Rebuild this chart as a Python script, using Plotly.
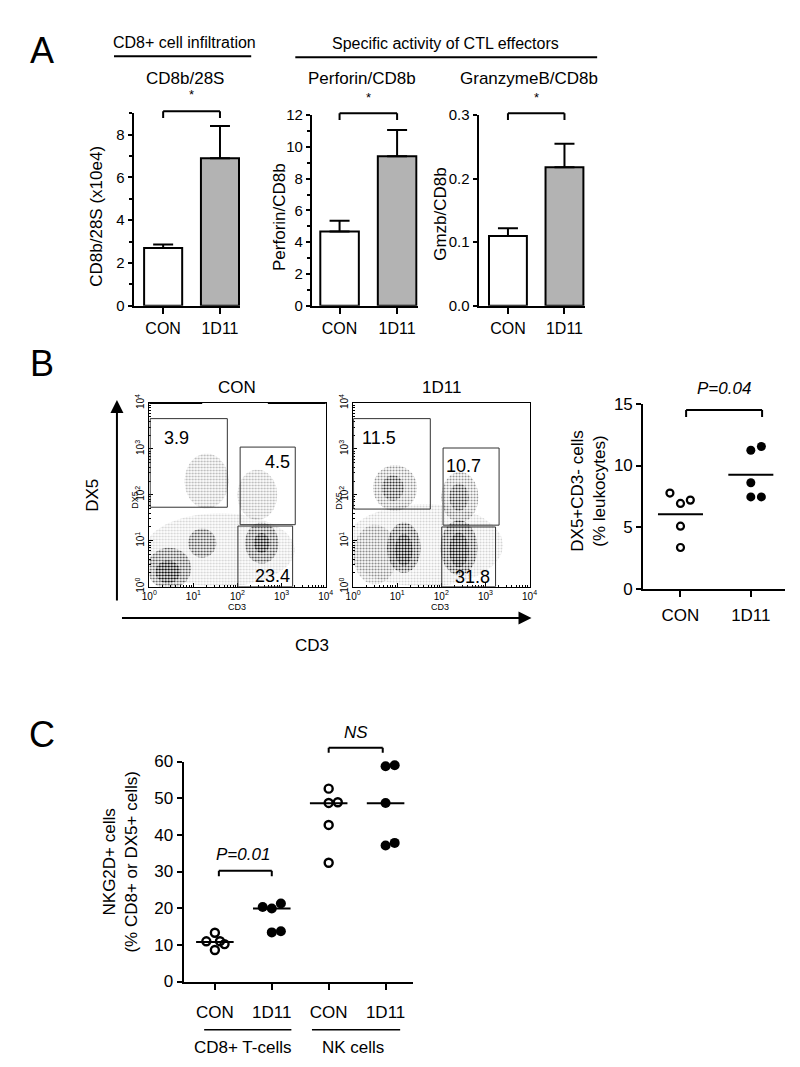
import numpy as np
import plotly.graph_objects as go

W, H = 800, 1067
FONT = "Liberation Sans, Arial, Helvetica, sans-serif"
FS = 17


def px_x(p):
    return p / W


def px_y(p):
    return 1 - p / H


# ---------------- DATA ----------------
# Panel A (bar charts, mean + upper SEM)
bar_categories = ["CON", "1D11"]
cd8_28s_mean = [2.7, 6.9]
cd8_28s_err = [0.16, 1.5]
perforin_mean = [4.68, 9.42]
perforin_err = [0.68, 1.65]
gmzb_mean = [0.110, 0.218]
gmzb_err = [0.012, 0.037]

# Panel B flow cytometry gates (log10 units) and percentages
gate_pct_con = [3.9, 4.5, 23.4]
gate_pct_1d11 = [11.5, 10.7, 31.8]
gate_x0_con = [0.02, 2.06, 2.01]
gate_x1_con = [1.77, 3.31, 3.25]
gate_y0_con = [1.73, 1.35, 0.0]
gate_y1_con = [3.66, 3.04, 1.32]
gate_x0_1d11 = [0.01, 2.04, 2.01]
gate_x1_1d11 = [1.75, 3.31, 3.23]
gate_y0_1d11 = [1.69, 1.34, 0.0]
gate_y1_1d11 = [3.66, 3.02, 1.30]
gate_lbl_x_con = [0.62, 2.9, 2.8]
gate_lbl_y_con = [3.24, 2.72, 0.24]
gate_lbl_x_1d11 = [0.58, 2.5, 2.7]
gate_lbl_y_1d11 = [3.24, 2.62, 0.22]

# Cell populations (log10 centre, log10 spread, relative density)
pop_cx_con = [1.6, 0.45, 0.42, 1.2, 2.55, 2.55, 1.3, 2.45]
pop_cy_con = [0.8, 0.4, 0.32, 0.95, 0.95, 0.95, 2.3, 2.0]
pop_rx_con = [1.7, 0.5, 0.28, 0.32, 0.38, 0.18, 0.5, 0.45]
pop_ry_con = [0.8, 0.45, 0.25, 0.32, 0.45, 0.22, 0.6, 0.55]
pop_den_con = [0.18, 0.7, 1.0, 0.7, 0.75, 1.0, 0.3, 0.3]

pop_cx_1d11 = [1.6, 0.5, 1.15, 1.15, 2.4, 2.4, 0.95, 2.42, 0.9, 2.4]
pop_cy_1d11 = [0.9, 0.7, 0.85, 0.8, 0.85, 0.8, 2.15, 1.95, 2.15, 1.95]
pop_rx_1d11 = [1.8, 0.5, 0.38, 0.2, 0.42, 0.22, 0.5, 0.42, 0.25, 0.22]
pop_ry_1d11 = [0.9, 0.65, 0.55, 0.35, 0.6, 0.38, 0.5, 0.55, 0.28, 0.3]
pop_den_1d11 = [0.18, 0.35, 0.8, 1.0, 0.8, 1.0, 0.45, 0.45, 0.7, 0.7]

# Panel B dot plot (DX5+CD3- cells, % leukocytes)
b_con_vals = [7.76, 6.92, 7.19, 5.07, 3.34]
b_con_offs = [-0.15, 0.0, 0.14, 0.0, 0.0]
b_1d11_vals = [11.24, 11.55, 8.6, 7.45, 7.45]
b_1d11_offs = [0.0, 0.15, 0.0, 0.0, 0.15]
b_lines = [6.04, 9.25]

# Panel C (NKG2D+ cells)
c_categories = ["CON", "1D11", "CON", "1D11"]
c_groups = ["CD8+ T-cells", "NK cells"]
c_cd8_con = [10.96, 13.3, 8.6, 11.0, 10.2]
c_cd8_con_offs = [-0.15, 0.0, 0.0, 0.09, 0.17]
c_cd8_1d11 = [20.3, 19.9, 21.3, 13.4, 13.7]
c_cd8_1d11_offs = [-0.16, 0.0, 0.16, 0.0, 0.16]
c_nk_con = [52.6, 48.7, 48.9, 42.7, 32.4]
c_nk_con_offs = [0.0, 0.0, 0.16, 0.0, 0.0]
c_nk_1d11 = [58.7, 59.0, 48.7, 37.1, 37.8]
c_nk_1d11_offs = [0.0, 0.16, 0.0, 0.0, 0.16]
c_lines = [10.8, 19.9, 48.6, 48.6]

# ---------------- FIGURE ----------------
fig = go.Figure()
layout = dict(
    width=W, height=H, autosize=False,
    margin=dict(l=0, r=0, t=0, b=0),
    paper_bgcolor="white", plot_bgcolor="white",
    showlegend=False, hovermode=False,
    font=dict(family=FONT, size=FS, color="black"),
)
annotations = []
shapes = []


def axn(n, kind):
    return f"{kind}axis" if n == 1 else f"{kind}axis{n}"


def ref(n, kind):
    return kind if n == 1 else f"{kind}{n}"


def ann(text, x, y, size=FS, angle=0, xanchor="center", yanchor="middle",
        xref="paper", yref="paper"):
    annotations.append(dict(text=text, x=x, y=y, xref=xref, yref=yref,
                            showarrow=False, textangle=angle,
                            xanchor=xanchor, yanchor=yanchor,
                            font=dict(size=size, family=FONT, color="black")))


def line_paper(x0, y0, x1, y1, w=2):
    shapes.append(dict(type="line", xref="paper", yref="paper",
                       x0=px_x(x0), x1=px_x(x1), y0=px_y(y0), y1=px_y(y1),
                       line=dict(color="black", width=w)))


def bracket(n, x0, x1, ytop, yleg, w=2):
    xr, yr = ref(n, "x"), ref(n, "y") + " domain"
    for (a, b, c, d) in [(x0, ytop, x1, ytop), (x0, ytop, x0, yleg), (x1, ytop, x1, yleg)]:
        shapes.append(dict(type="line", xref=xr, yref=yr, x0=a, y0=b, x1=c, y1=d,
                           line=dict(color="black", width=w)))


def cat_axes(n, l, r, top, bottom, xrange, yrange, ytickvals, cats, minor_dtick=None,
             ytickformat=None, xstandoff=0, xfont=FS, yfont=FS, yticklen=5):
    layout[axn(n, "x")] = dict(
        domain=[px_x(l), px_x(r)], range=xrange, anchor=ref(n, "y"),
        showline=True, linewidth=2, linecolor="black", ticks="outside",
        ticklen=6, tickwidth=2, tickcolor="black", tickvals=list(range(len(cats))),
        ticktext=cats, tickfont=dict(size=xfont), showgrid=False, zeroline=False,
        ticklabelstandoff=xstandoff)
    yax = dict(
        domain=[px_y(bottom), px_y(top)], range=yrange, anchor=ref(n, "x"),
        showline=True, linewidth=2, linecolor="black", ticks="outside",
        ticklen=yticklen, tickwidth=2, tickcolor="black", tickvals=ytickvals,
        tickfont=dict(size=yfont), showgrid=False, zeroline=False)
    if ytickformat:
        yax["tickformat"] = ytickformat
    if minor_dtick:
        yax["minor"] = dict(dtick=minor_dtick, ticks="outside", ticklen=3,
                            tickwidth=1.5, tickcolor="black", showgrid=False)
    layout[axn(n, "y")] = yax


# ----- Panel A -----
bar_specs = [
    (1, 120, 229, 98, 294, [-0.52, 1.36], [0, 9], [0, 2, 4, 6, 8], 1, None,
     cd8_28s_mean, cd8_28s_err),
    (2, 302, 410, 100, 294, [-0.48, 1.36], [0, 12], [0, 2, 4, 6, 8, 10, 12], 1, None,
     perforin_mean, perforin_err),
    (3, 472, 581, 100, 294, [-0.52, 1.37], [0, 0.3], [0, 0.1, 0.2, 0.3], None, ".1f",
     gmzb_mean, gmzb_err),
]
for (n, l, r, t, b, xr, yr, ytv, md, tf, means, errs) in bar_specs:
    cat_axes(n, l, r, t, b, xr, yr, ytv, bar_categories, md, tf,
             xstandoff=1, xfont=16, yfont=15, yticklen=4)
    fig.add_trace(go.Bar(
        x=list(range(len(bar_categories))), y=means, width=0.67,
        marker=dict(color=["white", "#b3b3b3"], line=dict(color="black", width=2)),
        error_y=dict(type="data", symmetric=False, array=errs,
                     arrayminus=[0] * len(errs), color="black", thickness=2, width=10),
        xaxis=ref(n, "x"), yaxis=ref(n, "y")))
    bracket(n, 0, 1, 1.01, 0.975)
    ann("*", 0.5, 1.095, size=13, xref=ref(n, "x"), yref=ref(n, "y") + " domain")

ann("CD8b/28S", px_x(172), px_y(63))
ann("Perforin/CD8b", px_x(353), px_y(63))
ann("GranzymeB/CD8b", px_x(523), px_y(63))
ann("CD8b/28S (x10e4)", px_x(82), px_y(203), angle=-90)
ann("Perforin/CD8b", px_x(269), px_y(204), angle=-90)
ann("Gmzb/CD8b", px_x(433), px_y(200), angle=-90)
ann("CD8+ cell infiltration", px_x(172), px_y(26), size=16)
line_paper(100, 40, 240, 40)
ann("Specific activity of CTL effectors", px_x(438), px_y(27), size=16)
line_paper(285, 41, 593, 41)
ann("A", px_x(27), px_y(34), size=36)
ann("B", px_x(27), px_y(353), size=36)
ann("C", px_x(27), px_y(731), size=36)

# ----- Panel B flow plots -----
decades = [0, 1, 2, 3, 4]
dec_text = [f"10<sup>{d}</sup>" for d in decades]
minor_vals = [d + np.log10(k) for d in range(4) for k in range(2, 10)]
theta = np.linspace(0, 2 * np.pi, 72)

flow_specs = [
    (4, 136, 316, "CON", pop_cx_con, pop_cy_con, pop_rx_con, pop_ry_con, pop_den_con,
     gate_x0_con, gate_x1_con, gate_y0_con, gate_y1_con, gate_pct_con,
     gate_lbl_x_con, gate_lbl_y_con),
    (5, 344, 524, "1D11", pop_cx_1d11, pop_cy_1d11, pop_rx_1d11, pop_ry_1d11, pop_den_1d11,
     gate_x0_1d11, gate_x1_1d11, gate_y0_1d11, gate_y1_1d11, gate_pct_1d11,
     gate_lbl_x_1d11, gate_lbl_y_1d11),
]
for (n, l, r, name, cx, cy, rx, ry, den, gx0, gx1, gy0, gy1, pct, lx, ly) in flow_specs:
    common = dict(showline=True, mirror=True, linewidth=1, linecolor="black",
                  ticks="inside", ticklen=4, tickwidth=1, tickcolor="black",
                  tickvals=decades, ticktext=dec_text, tickfont=dict(size=10),
                  showgrid=False, zeroline=False, range=[0, 4],
                  minor=dict(tickvals=minor_vals, ticks="inside", ticklen=2,
                             tickwidth=1, tickcolor="black", showgrid=False))
    layout[axn(n, "x")] = dict(domain=[px_x(l), px_x(r)], anchor=ref(n, "y"), **common)
    layout[axn(n, "y")] = dict(domain=[px_y(580), px_y(393)], anchor=ref(n, "x"),
                               tickangle=-90, **common)
    for i in range(len(cx)):
        fig.add_trace(go.Scatter(
            x=cx[i] + rx[i] * np.cos(theta), y=cy[i] + ry[i] * np.sin(theta),
            mode="lines", fill="toself", fillcolor="rgba(0,0,0,0)",
            line=dict(width=0, color="rgba(0,0,0,0)"),
            fillpattern=dict(shape=".", fgcolor="black", fgopacity=den[i],
                             size=3, solidity=0.35),
            xaxis=ref(n, "x"), yaxis=ref(n, "y")))
    for i in range(len(gx0)):
        shapes.append(dict(type="rect", xref=ref(n, "x"), yref=ref(n, "y"),
                           x0=gx0[i], x1=gx1[i], y0=gy0[i], y1=gy1[i],
                           line=dict(color="#333333", width=1)))
        ann(str(pct[i]), lx[i], ly[i], size=18, xref=ref(n, "x"), yref=ref(n, "y"))
    ann(name, (px_x(l) + px_x(r)) / 2, px_y(377), size=FS)
    ann("DX5", px_x(l - 14), px_y(492), size=9, angle=-90)
    ann("CD3", px_x(l + 89), px_y(601), size=9)

# thicker segments on CON frame top
line_paper(136, 393, 190, 393, w=2)
line_paper(257, 393, 316, 393, w=2)

# big axis arrows
annotations.append(dict(x=px_x(103), y=px_y(390), xref="paper", yref="paper",
                        ax=0, ay=202, axref="pixel", ayref="pixel", text="",
                        showarrow=True, arrowhead=2, arrowsize=1.3, arrowwidth=2,
                        arrowcolor="black"))
annotations.append(dict(x=px_x(526), y=px_y(612), xref="paper", yref="paper",
                        ax=-411, ay=0, axref="pixel", ayref="pixel", text="",
                        showarrow=True, arrowhead=2, arrowsize=1.3, arrowwidth=2,
                        arrowcolor="black"))
ann("DX5", px_x(78), px_y(487), angle=-90)
ann("CD3", px_x(302), px_y(640))

# ----- Panel B dot plot -----
cat_axes(6, 640, 785, 394, 582, [-0.53, 1.49], [0, 15], [0, 5, 10, 15],
         bar_categories, xstandoff=4)
fig.add_trace(go.Scatter(
    x=[0 + o for o in b_con_offs], y=b_con_vals, mode="markers",
    marker=dict(symbol="circle-open", size=7, color="black", line=dict(width=2.2)),
    xaxis="x6", yaxis="y6", cliponaxis=False))
fig.add_trace(go.Scatter(
    x=[1 + o for o in b_1d11_offs], y=b_1d11_vals, mode="markers",
    marker=dict(symbol="circle", size=9, color="black"),
    xaxis="x6", yaxis="y6", cliponaxis=False))
for i, v in enumerate(b_lines):
    fig.add_trace(go.Scatter(x=[i - 0.32, i + 0.32], y=[v, v], mode="lines",
                             line=dict(color="black", width=2),
                             xaxis="x6", yaxis="y6"))
bracket(6, 0.08, 1.16, 0.968, 0.93)
ann("<i>P=0.04</i>", 0.62, 1.02, size=FS, xref="x6", yref="y6 domain", yanchor="bottom")
ann("DX5+CD3- cells<br>(% leukocytes)", px_x(584), px_y(483), angle=-90)

# ----- Panel C -----
cat_axes(7, 171, 405, 758, 982, [-0.55, 3.48], [0, 60], [0, 10, 20, 30, 40, 50, 60],
         c_categories, xstandoff=8)
c_sets = [(0, c_cd8_con, c_cd8_con_offs, True), (1, c_cd8_1d11, c_cd8_1d11_offs, False),
          (2, c_nk_con, c_nk_con_offs, True), (3, c_nk_1d11, c_nk_1d11_offs, False)]
for (ci, vals, offs, opn) in c_sets:
    if opn:
        mk = dict(symbol="circle-open", size=8, color="black", line=dict(width=2.4))
    else:
        mk = dict(symbol="circle", size=10, color="black")
    fig.add_trace(go.Scatter(x=[ci + o for o in offs], y=vals, mode="markers",
                             marker=mk, xaxis="x7", yaxis="y7", cliponaxis=False))
for i, v in enumerate(c_lines):
    fig.add_trace(go.Scatter(x=[i - 0.33, i + 0.33], y=[v, v], mode="lines",
                             line=dict(color="black", width=2),
                             xaxis="x7", yaxis="y7"))
bracket(7, 0.07, 1.0, 0.504, 0.478)
ann("<i>P=0.01</i>", 0.5, 0.525, size=FS, xref="x7", yref="y7 domain", yanchor="bottom")
bracket(7, 2.0, 2.95, 1.0625, 1.04)
ann("<i>NS</i>", 2.48, 1.08, size=FS, xref="x7", yref="y7 domain", yanchor="bottom")
line_paper(192, 1031, 281, 1031, w=1.5)
line_paper(302, 1031, 392, 1031, w=1.5)
ann(c_groups[0], px_x(231), px_y(1049))
ann(c_groups[1], px_x(344), px_y(1049))
ann("NKG2D+ cells<br>(% CD8+ or DX5+ cells)", px_x(107), px_y(860), angle=-90)

layout["annotations"] = annotations
layout["shapes"] = shapes
fig.update_layout(**layout)
fig.write_html("out.html")
